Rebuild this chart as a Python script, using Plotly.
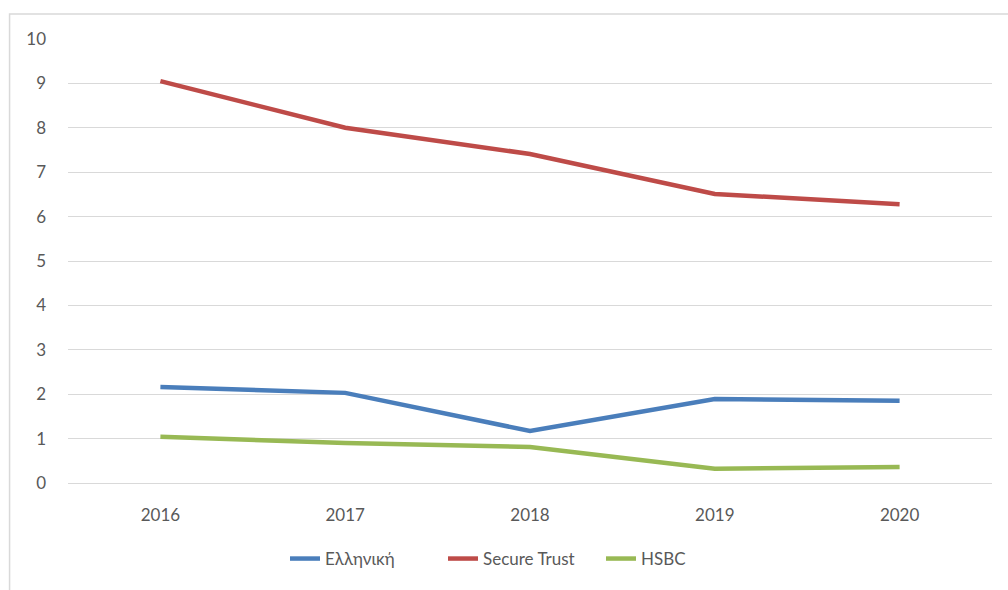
import plotly.graph_objects as go

years = ["2016", "2017", "2018", "2019", "2020"]
ellhniki = [2.16, 2.03, 1.17, 1.89, 1.85]
secure_trust = [9.05, 8.0, 7.41, 6.51, 6.28]
hsbc = [1.04, 0.9, 0.81, 0.32, 0.36]

series = [
    ("Ελληνική", ellhniki, "#4A7EBB"),
    ("Secure Trust", secure_trust, "#BE4B48"),
    ("HSBC", hsbc, "#98B954"),
]

fig = go.Figure()
for name, vals, color in series:
    fig.add_trace(go.Scatter(x=years, y=vals, name=name, mode="lines",
                             line=dict(color=color, width=4.5)))

W, H = 1008, 590
L, R, T, B = 67.5, 15.5, 39, 107
pw = W - L - R
ph = H - T - B

def px_x(p):
    return (p - L) / pw

def px_y(p):
    return (H - B - p) / ph

fig.update_layout(
    width=W, height=H,
    margin=dict(l=L, r=R, t=T, b=B, pad=0),
    paper_bgcolor="white", plot_bgcolor="white",
    font=dict(family="Lato, 'Open Sans', sans-serif", size=17, color="#595959"),
    showlegend=True,
    legend=dict(orientation="h", x=px_x(522), xanchor="center", y=px_y(559), yanchor="middle",
                font=dict(size=17, color="#595959"), itemwidth=30, tracegroupgap=0,
                entrywidth=113, entrywidthmode="pixels"),
    shapes=[dict(type="rect", xref="paper", yref="paper",
                 x0=px_x(9), x1=px_x(1015), y0=px_y(600), y1=px_y(14),
                 line=dict(color="#D9D9D9", width=1.5), fillcolor="rgba(0,0,0,0)",
                 layer="below")],
)
fig.update_xaxes(type="category", range=[-0.5, len(years) - 0.5], showgrid=False,
                 showline=True, linecolor="#D9D9D9",
                 linewidth=1, ticks="", ticklabelstandoff=17,
                 tickfont=dict(size=17, color="#595959"))
fig.update_yaxes(range=[0, 10], dtick=1, showgrid=True, gridcolor="#D9D9D9", gridwidth=1,
                 zeroline=False, showline=False, ticks="", ticklabelstandoff=21,
                 tickfont=dict(size=17, color="#595959"))

fig.write_html("out.html")
